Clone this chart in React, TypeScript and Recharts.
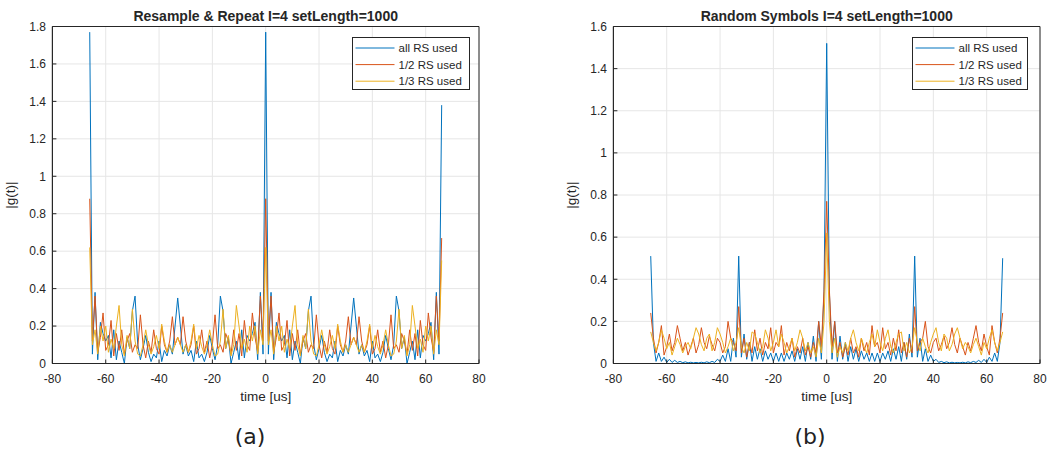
import {
  LineChart,
  Line,
  XAxis,
  YAxis,
  CartesianGrid,
  Legend,
  ReferenceArea,
} from "recharts";

// sample times in microseconds, shared by both panels
const timeUs = [
  -66, -65, -64, -63, -62, -61, -60, -59, -58, -57, -56, -55, -54, -53, -52, -51, -50,
  -49, -48, -47, -46, -45, -44, -43, -42, -41, -40, -39, -38, -37, -36, -35, -34, -33,
  -32, -31, -30, -29, -28, -27, -26, -25, -24, -23, -22, -21, -20, -19, -18, -17, -16,
  -15, -14, -13, -12, -11, -10, -9, -8, -7, -6, -5, -4, -3, -2, -1, 0,
  1, 2, 3, 4, 5, 6, 7, 8, 9, 10, 11, 12, 13, 14, 15, 16, 17, 18, 19, 20, 21, 22, 23, 24,
  25, 26, 27, 28, 29, 30, 31, 32, 33, 34, 35, 36, 37, 38, 39, 40, 41, 42, 43, 44, 45, 46,
  47, 48, 49, 50, 51, 52, 53, 54, 55, 56, 57, 58, 59, 60, 61, 62, 63, 64, 65, 66,
];

// (a) resample & repeat: |g(t)|
const repeatAll = [
  1.77, 0.05, 0.38, 0.02, 0.22, 0.16, 0.12, 0.15, 0.03, 0.18, 0.02, 0.12, 0.06, 0.0, 0.14, 0.08, 0.28,
  0.36, 0.1, 0.02, 0.08, 0.15, 0.06, 0.01, 0.05, 0.03, 0.12, 0.01, 0.07, 0.04, 0.1, 0.05, 0.2, 0.35,
  0.2, 0.05, 0.1, 0.04, 0.07, 0.01, 0.12, 0.03, 0.05, 0.01, 0.06, 0.15, 0.08, 0.02, 0.1, 0.36, 0.28,
  0.08, 0.14, 0.0, 0.06, 0.12, 0.02, 0.18, 0.03, 0.15, 0.12, 0.16, 0.22, 0.02, 0.38, 0.05, 1.77,
  0.05, 0.38, 0.02, 0.22, 0.16, 0.12, 0.15, 0.03, 0.18, 0.02, 0.12, 0.06, 0.0, 0.14, 0.08, 0.28,
  0.36, 0.1, 0.02, 0.08, 0.15, 0.06, 0.01, 0.05, 0.03, 0.12, 0.01, 0.07, 0.04, 0.1, 0.05, 0.2, 0.35,
  0.2, 0.05, 0.1, 0.04, 0.07, 0.01, 0.12, 0.03, 0.05, 0.01, 0.06, 0.15, 0.08, 0.02, 0.1, 0.36, 0.28,
  0.08, 0.14, 0.0, 0.06, 0.12, 0.02, 0.18, 0.03, 0.15, 0.12, 0.16, 0.22, 0.02, 0.38, 0.05, 1.38,
];
const repeatHalf = [
  0.88, 0.12, 0.36, 0.06, 0.14, 0.27, 0.07, 0.1, 0.23, 0.04, 0.16, 0.07, 0.18, 0.05, 0.12, 0.16, 0.06,
  0.1, 0.08, 0.26, 0.1, 0.03, 0.12, 0.06, 0.18, 0.08, 0.05, 0.2, 0.1, 0.06, 0.12, 0.25, 0.1, 0.14,
  0.1, 0.25, 0.12, 0.06, 0.1, 0.2, 0.05, 0.08, 0.18, 0.06, 0.12, 0.03, 0.1, 0.26, 0.08, 0.1, 0.06,
  0.16, 0.12, 0.05, 0.18, 0.07, 0.16, 0.04, 0.23, 0.1, 0.07, 0.27, 0.14, 0.06, 0.36, 0.12, 0.88,
  0.12, 0.36, 0.06, 0.14, 0.27, 0.07, 0.1, 0.23, 0.04, 0.16, 0.07, 0.18, 0.05, 0.12, 0.16, 0.06,
  0.1, 0.08, 0.26, 0.1, 0.03, 0.12, 0.06, 0.18, 0.08, 0.05, 0.2, 0.1, 0.06, 0.12, 0.25, 0.1, 0.14,
  0.1, 0.25, 0.12, 0.06, 0.1, 0.2, 0.05, 0.08, 0.18, 0.06, 0.12, 0.03, 0.1, 0.26, 0.08, 0.1, 0.06,
  0.16, 0.12, 0.05, 0.18, 0.07, 0.16, 0.04, 0.23, 0.1, 0.07, 0.27, 0.14, 0.06, 0.36, 0.12, 0.67,
];
const repeatThird = [
  0.62, 0.1, 0.18, 0.05, 0.2, 0.12, 0.2, 0.06, 0.13, 0.08, 0.2, 0.31, 0.1, 0.04, 0.15, 0.08, 0.29,
  0.12, 0.05, 0.04, 0.1, 0.18, 0.1, 0.05, 0.09, 0.15, 0.08, 0.21, 0.12, 0.06, 0.1, 0.06, 0.1, 0.14,
  0.1, 0.06, 0.1, 0.06, 0.12, 0.21, 0.08, 0.15, 0.09, 0.05, 0.1, 0.18, 0.1, 0.04, 0.05, 0.12, 0.29,
  0.08, 0.15, 0.04, 0.1, 0.31, 0.2, 0.08, 0.13, 0.06, 0.2, 0.12, 0.2, 0.05, 0.18, 0.1, 0.62,
  0.1, 0.18, 0.05, 0.2, 0.12, 0.2, 0.06, 0.13, 0.08, 0.2, 0.31, 0.1, 0.04, 0.15, 0.08, 0.29,
  0.12, 0.05, 0.04, 0.1, 0.18, 0.1, 0.05, 0.09, 0.15, 0.08, 0.21, 0.12, 0.06, 0.1, 0.06, 0.1, 0.14,
  0.1, 0.06, 0.1, 0.06, 0.12, 0.21, 0.08, 0.15, 0.09, 0.05, 0.1, 0.18, 0.1, 0.04, 0.05, 0.12, 0.29,
  0.08, 0.15, 0.04, 0.1, 0.31, 0.2, 0.08, 0.13, 0.06, 0.2, 0.12, 0.2, 0.05, 0.18, 0.1, 0.55,
];

// (b) random symbols: |g(t)|
const randomAll = [
  0.51, 0.1, 0.01, 0.05, 0.01, 0.03, 0.005, 0.02, 0.005, 0.015, 0.005, 0.01, 0.004, 0.008, 0.003, 0.006,
  0.003, 0.005, 0.003, 0.006, 0.003, 0.008, 0.004, 0.01, 0.005, 0.02, 0.01, 0.04, 0.01, 0.07, 0.01, 0.12,
  0.03, 0.51, 0.03, 0.14, 0.02, 0.1, 0.01, 0.08, 0.02, 0.07, 0.01, 0.06, 0.02, 0.05, 0.01, 0.05, 0.01,
  0.05, 0.01, 0.05, 0.02, 0.06, 0.01, 0.07, 0.02, 0.08, 0.01, 0.1, 0.02, 0.13, 0.01, 0.2, 0.02, 0.34,
  1.52,
  0.34, 0.02, 0.2, 0.01, 0.13, 0.02, 0.1, 0.01, 0.08, 0.02, 0.07, 0.01, 0.06, 0.02, 0.05, 0.01, 0.05,
  0.01, 0.05, 0.01, 0.05, 0.02, 0.06, 0.01, 0.07, 0.02, 0.08, 0.01, 0.1, 0.02, 0.14, 0.03, 0.51, 0.03,
  0.12, 0.01, 0.07, 0.01, 0.04, 0.01, 0.02, 0.005, 0.01, 0.004, 0.008, 0.003, 0.006, 0.003, 0.005, 0.003,
  0.006, 0.003, 0.008, 0.004, 0.01, 0.005, 0.015, 0.005, 0.02, 0.005, 0.03, 0.01, 0.05, 0.01, 0.1, 0.5,
];
const randomHalf = [
  0.24, 0.12, 0.05, 0.1, 0.18, 0.04, 0.08, 0.14, 0.06, 0.1, 0.18, 0.12, 0.06, 0.1, 0.04, 0.08, 0.12,
  0.05, 0.09, 0.17, 0.1, 0.07, 0.13, 0.09, 0.06, 0.12, 0.1, 0.05, 0.08, 0.2, 0.12, 0.1, 0.06, 0.27,
  0.05, 0.12, 0.03, 0.1, 0.05, 0.16, 0.06, 0.12, 0.04, 0.1, 0.07, 0.17, 0.05, 0.1, 0.08, 0.18, 0.04,
  0.1, 0.06, 0.12, 0.03, 0.08, 0.05, 0.12, 0.04, 0.08, 0.03, 0.1, 0.05, 0.2, 0.08, 0.35,
  0.77,
  0.35, 0.08, 0.2, 0.05, 0.1, 0.03, 0.08, 0.04, 0.12, 0.05, 0.08, 0.03, 0.12, 0.06, 0.1, 0.04, 0.18,
  0.08, 0.1, 0.05, 0.17, 0.07, 0.1, 0.04, 0.12, 0.06, 0.16, 0.05, 0.1, 0.03, 0.12, 0.05, 0.27, 0.06,
  0.1, 0.12, 0.2, 0.08, 0.05, 0.1, 0.12, 0.06, 0.09, 0.13, 0.07, 0.1, 0.17, 0.09, 0.05, 0.12, 0.08,
  0.04, 0.1, 0.06, 0.12, 0.18, 0.1, 0.06, 0.14, 0.08, 0.04, 0.18, 0.1, 0.05, 0.12, 0.24,
];
const randomThird = [
  0.15, 0.1, 0.06, 0.1, 0.16, 0.12, 0.07, 0.1, 0.04, 0.08, 0.12, 0.09, 0.05, 0.08, 0.1, 0.07, 0.12,
  0.17, 0.14, 0.09, 0.06, 0.12, 0.14, 0.06, 0.1, 0.17, 0.14, 0.1, 0.05, 0.08, 0.12, 0.06, 0.1, 0.17,
  0.08, 0.05, 0.1, 0.06, 0.15, 0.14, 0.1, 0.05, 0.08, 0.16, 0.12, 0.06, 0.1, 0.16, 0.08, 0.14, 0.1,
  0.05, 0.08, 0.12, 0.06, 0.1, 0.16, 0.12, 0.06, 0.1, 0.05, 0.08, 0.03, 0.12, 0.05, 0.2,
  0.62,
  0.2, 0.05, 0.12, 0.03, 0.08, 0.05, 0.1, 0.06, 0.12, 0.16, 0.1, 0.06, 0.12, 0.08, 0.05, 0.1, 0.14,
  0.08, 0.16, 0.1, 0.06, 0.12, 0.16, 0.08, 0.05, 0.1, 0.14, 0.15, 0.06, 0.1, 0.05, 0.08, 0.17, 0.1,
  0.06, 0.12, 0.08, 0.05, 0.1, 0.14, 0.17, 0.1, 0.06, 0.14, 0.12, 0.06, 0.09, 0.14, 0.17, 0.12, 0.07,
  0.1, 0.08, 0.05, 0.09, 0.12, 0.08, 0.04, 0.1, 0.07, 0.12, 0.16, 0.1, 0.06, 0.1, 0.15,
];

const xTicks = [-80, -60, -40, -20, 0, 20, 40, 60, 80];
const repeatYTicks = [0, 0.2, 0.4, 0.6, 0.8, 1, 1.2, 1.4, 1.6, 1.8];
const randomYTicks = [0, 0.2, 0.4, 0.6, 0.8, 1, 1.2, 1.4, 1.6];

const seriesKeys = ["all", "half", "third"];
const seriesNames = ["all RS used", "1/2 RS used", "1/3 RS used"];
const seriesColors = ["#0072BD", "#D95319", "#EDB120"];

const INK = "#262626";
const FONT = '"Liberation Sans", Arial, Helvetica, sans-serif';

function buildRows(all: number[], half: number[], third: number[]) {
  return timeUs.map((t, i) => ({ t, all: all[i], half: half[i], third: third[i] }));
}

function LegendBox({ payload, width, height }: any) {
  // keep the series order (recharts sorts the payload by name)
  const items = [...(payload || [])].sort(
    (a: any, b: any) => seriesNames.indexOf(a.value) - seriesNames.indexOf(b.value)
  );
  return (
    <svg width={width} height={height} style={{ display: "block" }}>
      <rect x={0.5} y={0.5} width={width - 1} height={height - 1} fill="#fff" stroke={INK} />
      {items.map((item: any, i: number) => {
        const y = 11 + i * 16.6;
        return (
          <g key={item.value}>
            <line x1={3.5} x2={42.5} y1={y} y2={y} stroke={item.color} strokeWidth={1} />
            <text x={46.5} y={y + 4} fontSize={11.5} fill={INK} fontFamily={FONT}>
              {item.value}
            </text>
          </g>
        );
      })}
    </svg>
  );
}

interface PanelProps {
  rows: { t: number; all: number; half: number; third: number }[];
  yMax: number;
  yTicks: number[];
  width: number;
  yAxisWidth: number;
  rightMargin: number;
  legendLeft: number;
  legendWidth: number;
}

function Panel({ rows, yMax, yTicks, width, yAxisWidth, rightMargin, legendLeft, legendWidth }: PanelProps) {
  return (
    <LineChart
      width={width}
      height={456}
      data={rows}
      margin={{ top: 26.5, right: rightMargin, bottom: 62.5, left: 0 }}
    >
      <CartesianGrid stroke="#e6e6e6" strokeWidth={1} />
      <XAxis
        dataKey="t"
        type="number"
        domain={[-80, 80]}
        ticks={xTicks}
        height={30}
        axisLine={{ stroke: INK }}
        tickLine={{ stroke: INK }}
        tickSize={-4}
        tickMargin={15.3}
        tick={{ fill: INK, fontSize: 12 }}
        interval={0}
      />
      <XAxis
        xAxisId="top"
        orientation="top"
        type="number"
        domain={[-80, 80]}
        ticks={xTicks}
        height={0}
        axisLine={false}
        tickLine={{ stroke: INK }}
        tickSize={-4}
        tick={false}
        interval={0}
      />
      <YAxis
        type="number"
        domain={[0, yMax]}
        ticks={yTicks}
        width={yAxisWidth}
        axisLine={{ stroke: INK }}
        tickLine={{ stroke: INK }}
        tickSize={-4}
        tickMargin={10.4}
        tick={{ fill: INK, fontSize: 12 }}
        interval={0}
      />
      <YAxis
        yAxisId="right"
        orientation="right"
        type="number"
        domain={[0, yMax]}
        ticks={yTicks}
        width={0}
        axisLine={false}
        tickLine={{ stroke: INK }}
        tickSize={-4}
        tick={false}
        interval={0}
      />
      <ReferenceArea x1={-80} x2={80} y1={0} y2={yMax} fill="none" stroke={INK} strokeWidth={1} />
      {seriesKeys.map((key, i) => (
        <Line
          key={key}
          dataKey={key}
          name={seriesNames[i]}
          type="linear"
          stroke={seriesColors[i]}
          strokeWidth={1}
          dot={false}
          activeDot={false}
          isAnimationActive={false}
        />
      ))}
      <Legend
        layout="vertical"
        align="center"
        verticalAlign="middle"
        wrapperStyle={{ left: legendLeft, top: 36.5, width: legendWidth, height: 53 }}
        content={(props: any) => (
          <LegendBox payload={props.payload} width={legendWidth} height={53} />
        )}
      />
    </LineChart>
  );
}

export default function App() {
  const repeatRows = buildRows(repeatAll, repeatHalf, repeatThird);
  const randomRows = buildRows(randomAll, randomHalf, randomThird);

  return (
    <div
      style={{
        position: "absolute",
        left: 0,
        top: 0,
        width: 1047,
        height: 456,
        background: "#fff",
        fontFamily: FONT,
        overflow: "hidden",
      }}
    >
      <div style={{ position: "absolute", left: 0, top: 0 }}>
        <Panel
          rows={repeatRows}
          yMax={1.8}
          yTicks={repeatYTicks}
          width={523}
          yAxisWidth={52.4}
          rightMargin={44}
          legendLeft={351.7}
          legendWidth={118}
        />
      </div>
      <div style={{ position: "absolute", left: 523, top: 0 }}>
        <Panel
          rows={randomRows}
          yMax={1.6}
          yTicks={randomYTicks}
          width={524}
          yAxisWidth={90.4}
          rightMargin={7}
          legendLeft={389.3}
          legendWidth={116}
        />
      </div>
      <svg
        width={1047}
        height={456}
        style={{ position: "absolute", left: 0, top: 0, pointerEvents: "none" }}
      >
        <g fill={INK} fontFamily={FONT}>
          <text x={265.7} y={20.5} textAnchor="middle" fontSize={14} fontWeight="bold">
            Resample &amp; Repeat I=4 setLength=1000
          </text>
          <text x={826.7} y={20.5} textAnchor="middle" fontSize={14} fontWeight="bold">
            Random Symbols I=4 setLength=1000
          </text>
          <text x={265.7} y={401} textAnchor="middle" fontSize={13.5}>
            time [us]
          </text>
          <text x={826.7} y={401} textAnchor="middle" fontSize={13.5}>
            time [us]
          </text>
          <text x={15} y={195} textAnchor="middle" fontSize={13.5} transform="rotate(-90 15 195)">
            |g(t)|
          </text>
          <text x={576} y={195} textAnchor="middle" fontSize={13.5} transform="rotate(-90 576 195)">
            |g(t)|
          </text>
        </g>
        <g fill="#222" fontFamily='"DejaVu Sans", sans-serif' fontSize={22}>
          <text x={250} y={444} textAnchor="middle">(a)</text>
          <text x={810} y={444} textAnchor="middle">(b)</text>
        </g>
      </svg>
    </div>
  );
}
